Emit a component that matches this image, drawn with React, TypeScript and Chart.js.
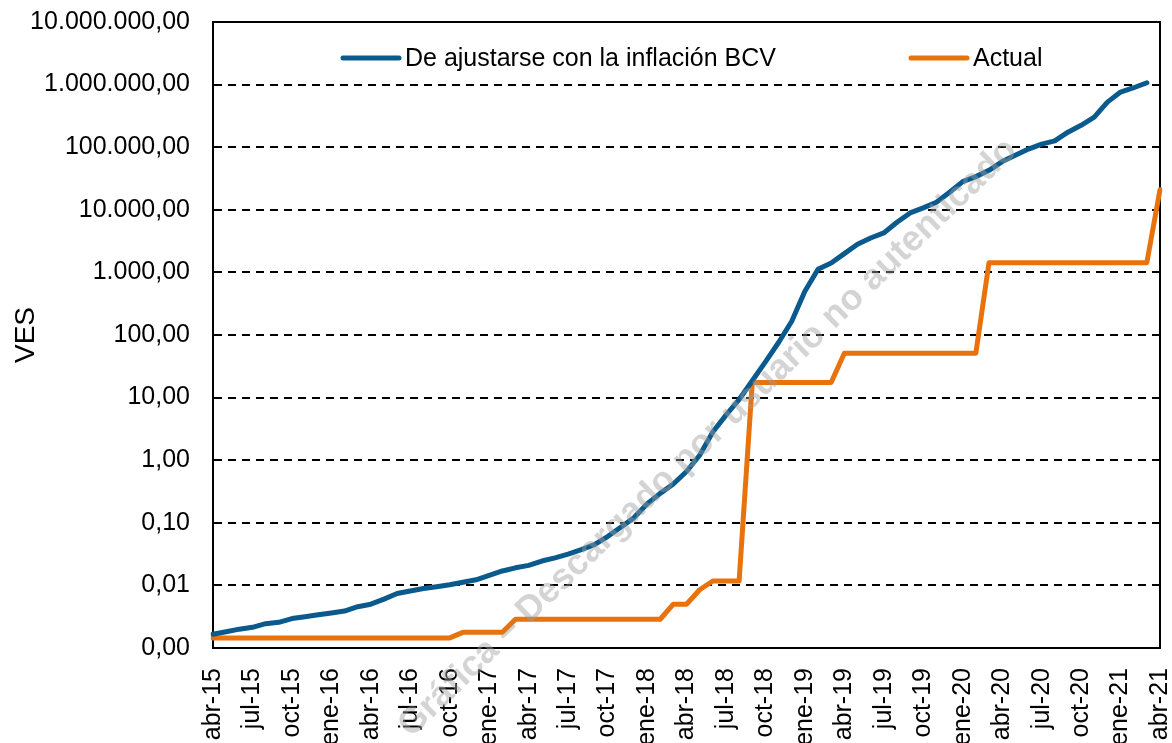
import React, { useEffect, useRef } from 'react';
import { Chart, registerables } from 'chart.js';

Chart.register(...registerables);

const MONTHS = ['ene', 'feb', 'mar', 'abr', 'may', 'jun', 'jul', 'ago', 'sep', 'oct', 'nov', 'dic'];

// Monthly categories abr-15 .. abr-21
const categories: string[] = [];
for (let y = 15; y <= 21; y++) {
  for (let m = 0; m < 12; m++) {
    if ((y === 15 && m < 3) || (y === 21 && m > 3)) continue;
    categories.push(`${MONTHS[m]}-${y}`);
  }
}

// "De ajustarse con la inflación BCV" (VES)
const adjustedSeries: (number | null)[] = [
  0.00166, 0.00182, 0.00200, 0.00214, 0.00245, 0.00257, 0.00295, 0.00316, 0.00339, 0.00363,
  0.00389, 0.00457, 0.00501, 0.00603, 0.00741, 0.00813, 0.00891, 0.00955, 0.01023, 0.01122,
  0.0123, 0.01445, 0.0170, 0.0191, 0.0209, 0.0245, 0.0275, 0.0316, 0.0372, 0.0447,
  0.0603, 0.0851, 0.120, 0.200, 0.295, 0.417, 0.661, 1.20, 2.82, 5.25,
  9.33, 18.6, 37.2, 75.9, 166, 501, 1122, 1413, 1995, 2818,
  3548, 4266, 6310, 8913, 10715, 13183, 19055, 28184, 33884, 42658,
  58884, 74131, 93325, 112202, 125893, 173780, 223872, 301995, 524807, 758578,
  891251, 1071519, null,
];

// "Actual" (VES)
const actualSeries: number[] = [
  0.00145, 0.00145, 0.00145, 0.00145, 0.00145, 0.00145, 0.00145, 0.00145, 0.00145, 0.00145,
  0.00145, 0.00145, 0.00145, 0.00145, 0.00145, 0.00145, 0.00145, 0.00145, 0.00145, 0.00178,
  0.00178, 0.00178, 0.00178, 0.00288, 0.00288, 0.00288, 0.00288, 0.00288, 0.00288, 0.00288,
  0.00288, 0.00288, 0.00288, 0.00288, 0.00288, 0.00501, 0.00501, 0.00851, 0.01175, 0.01175,
  0.01175, 17.4, 17.4, 17.4, 17.4, 17.4, 17.4, 17.4, 51.3, 51.3,
  51.3, 51.3, 51.3, 51.3, 51.3, 51.3, 51.3, 51.3, 51.3, 1430,
  1430, 1430, 1430, 1430, 1430, 1430, 1430, 1430, 1430, 1430,
  1430, 1430, 20900,
];

const yTickValues = [0.001, 0.01, 0.1, 1, 10, 100, 1000, 10000, 100000, 1000000, 10000000];

const seriesNames = ['De ajustarse con la inflación BCV', 'Actual'];
const seriesColors = ['#0A5A8D', '#E8720C'];
const yTitle = 'VES';
const watermark = 'Gráfica – Descargado por usuario no autenticado';

const FONT = "'Liberation Sans', Arial, Helvetica, sans-serif";

function fmtEs(v: number): string {
  const s = v.toFixed(2);
  const [int, dec] = s.split('.');
  return int.replace(/\B(?=(\d{3})+(?!\d))/g, '.') + ',' + dec;
}

const boxPlugin = {
  id: 'boxPlugin',
  beforeDatasetsDraw(chart: any) {
    const { ctx, chartArea } = chart;
    ctx.save();
    ctx.strokeStyle = '#000';
    ctx.lineWidth = 2;
    ctx.setLineDash([]);
    ctx.strokeRect(chartArea.left, chartArea.top, chartArea.right - chartArea.left, chartArea.bottom - chartArea.top);
    ctx.restore();
  },
  afterDraw(chart: any) {
    const { ctx } = chart;
    const y = 58;
    const items = [
      { x1: 343, x2: 399, tx: 405 },
      { x1: 911, x2: 967, tx: 973 },
    ];
    ctx.save();
    items.forEach((it, i) => {
      ctx.strokeStyle = seriesColors[i];
      ctx.lineWidth = 5;
      ctx.lineCap = 'round';
      ctx.beginPath();
      ctx.moveTo(it.x1, y);
      ctx.lineTo(it.x2, y);
      ctx.stroke();
      ctx.fillStyle = '#000';
      ctx.font = `25px ${FONT}`;
      ctx.textAlign = 'left';
      ctx.textBaseline = 'middle';
      ctx.fillText(seriesNames[i], it.tx, y + 1);
    });
    ctx.restore();

    // watermark
    ctx.save();
    ctx.translate(708, 438);
    ctx.rotate((-44 * Math.PI) / 180);
    ctx.font = `bold 36px ${FONT}`;
    ctx.fillStyle = 'rgba(160,160,160,0.45)';
    ctx.textAlign = 'center';
    ctx.textBaseline = 'middle';
    ctx.fillText(watermark, 0, 0);
    ctx.restore();
  },
};

export default function App() {
  const ref = useRef<HTMLCanvasElement | null>(null);

  useEffect(() => {
    document.body.style.margin = '0';
    const canvas = ref.current;
    if (!canvas) return;
    const chart = new Chart(canvas, {
      type: 'line',
      data: {
        labels: categories,
        datasets: [
          {
            label: seriesNames[0],
            data: adjustedSeries,
            borderColor: seriesColors[0],
            backgroundColor: seriesColors[0],
            borderWidth: 5,
            pointRadius: 0,
            tension: 0,
            fill: false,
            borderJoinStyle: 'round',
            borderCapStyle: 'round',
          },
          {
            label: seriesNames[1],
            data: actualSeries,
            borderColor: seriesColors[1],
            backgroundColor: seriesColors[1],
            borderWidth: 5,
            pointRadius: 0,
            tension: 0,
            fill: false,
            borderJoinStyle: 'round',
            borderCapStyle: 'round',
          },
        ],
      },
      options: {
        animation: false,
        responsive: false,
        maintainAspectRatio: false,
        layout: { padding: { left: 0, right: 12, top: 22, bottom: 0 } },
        plugins: {
          legend: { display: false },
          tooltip: { enabled: false },
        },
        scales: {
          x: {
            offset: false,
            grid: { display: false, drawTicks: false },
            border: { display: true, color: '#000', width: 2 },
            ticks: {
              autoSkip: false,
              maxRotation: 90,
              minRotation: 90,
              padding: 20,
              color: '#000',
              font: { family: FONT, size: 25, lineHeight: 1 },
              callback: (_v: any, i: number) => (i % 3 === 0 ? categories[i] : ''),
            },
            afterFit: (s: any) => {
              s.height = 95;
              s.paddingLeft = 0;
              s.paddingRight = 0;
            },
          },
          y: {
            type: 'logarithmic',
            min: 0.001,
            max: 10000000,
            grid: { color: '#000', lineWidth: 2, drawTicks: false },
            border: { display: true, color: '#000', width: 2, dash: [8, 6] },
            afterBuildTicks: (s: any) => {
              s.ticks = yTickValues.map((v) => ({ value: v }));
            },
            ticks: {
              padding: 23,
              color: '#000',
              font: { family: FONT, size: 25, lineHeight: 1 },
              callback: (v: any) => fmtEs(Number(v)),
            },
            title: {
              display: true,
              text: yTitle,
              color: '#000',
              font: { family: FONT, size: 28 },
              padding: { top: 9, bottom: 0 },
            },
            afterFit: (s: any) => {
              s.width = 213;
              s.paddingTop = 0;
              s.paddingBottom = 0;
            },
          },
        },
      },
      plugins: [boxPlugin],
    } as any);
    return () => chart.destroy();
  }, []);

  return (
    <div style={{ position: 'fixed', left: 0, top: 0, width: 1172, height: 743, background: '#fff' }}>
      <canvas ref={ref} width={1172} height={743} style={{ width: 1172, height: 743, display: 'block' }} />
    </div>
  );
}
